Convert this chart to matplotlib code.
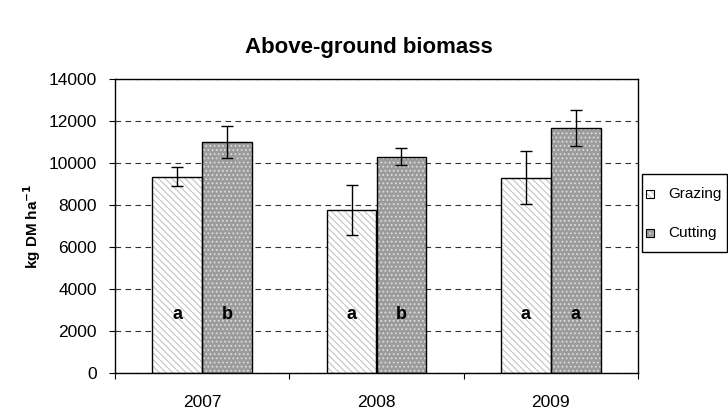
import numpy as np
import matplotlib
matplotlib.use("Agg")
import matplotlib.pyplot as plt
from matplotlib.patches import Rectangle

plt.rcParams['font.family'] = ['Liberation Sans', 'DejaVu Sans']
plt.rcParams['hatch.linewidth'] = 0.8

years = ["2007", "2008", "2009"]
series = ["Grazing", "Cutting"]
grazing = [9350, 7750, 9300]
grazing_err = [450, 1200, 1250]
cutting = [11000, 10300, 11650]
cutting_err = [750, 400, 850]
grazing_letters = ["a", "a", "a"]
cutting_letters = ["b", "b", "a"]
letter_y = 2800

W = 0.286
x = np.arange(len(years))
G_STYLE = dict(facecolor="white", hatch="\\\\\\\\\\", edgecolor="#c4c4c4")
C_STYLE = dict(facecolor="#9c9c9c", hatch="....", edgecolor="#dcdcdc")

fig = plt.figure(figsize=(7.28, 4.11), dpi=100)
ax = fig.add_axes([115/728, 1-373/411, (638-115)/728, (373-79)/411])

# hatched fills (no outline) then black outlines on top
ax.bar(x - W/2, grazing, W, linewidth=0, zorder=2, **G_STYLE)
ax.bar(x + W/2, cutting, W, linewidth=0, zorder=2, **C_STYLE)
ax.bar(x - W/2, grazing, W, fill=False, edgecolor="black", linewidth=1.0, zorder=3)
ax.bar(x + W/2, cutting, W, fill=False, edgecolor="black", linewidth=1.0, zorder=3)
ax.errorbar(x - W/2, grazing, yerr=grazing_err, fmt="none", ecolor="black", elinewidth=1, capsize=4, capthick=1, zorder=4)
ax.errorbar(x + W/2, cutting, yerr=cutting_err, fmt="none", ecolor="black", elinewidth=1, capsize=4, capthick=1, zorder=4)

for i in range(len(years)):
    ax.text(x[i] - W/2, letter_y, grazing_letters[i], ha="center", va="center", fontsize=13, fontweight="bold", zorder=5)
    ax.text(x[i] + W/2, letter_y, cutting_letters[i], ha="center", va="center", fontsize=13, fontweight="bold", zorder=5)

ax.set_ylim(0, 14000)
ax.set_yticks(np.arange(0, 14001, 2000))
ax.yaxis.grid(True, linestyle=(0, (5, 4)), color="#333333", linewidth=0.8, zorder=1)
ax.set_axisbelow(True)
ax.tick_params(axis="y", direction="out", length=4, labelsize=12.5, pad=9)

ax.set_xlim(-0.5, 2.5)
ax.set_xticks([-0.5, 0.5, 1.5, 2.5])
ax.set_xticklabels([])
ax.set_xticks(x, minor=True)
ax.set_xticklabels(years, minor=True)
ax.tick_params(axis="x", which="major", direction="out", length=4)
ax.tick_params(axis="x", which="minor", length=0, labelsize=12.5, pad=16)

for s in ax.spines.values():
    s.set_linewidth(1.0)
    s.set_color("black")

ax.set_ylabel("kg DM ha$^{\\mathbf{-1}}$", fontsize=11, fontweight="bold", labelpad=4)
fig.text(369/728, 1-47/411, "Above-ground biomass", ha="center", va="center", fontsize=16, fontweight="bold")

# legend box drawn by hand to match the spreadsheet layout
tf = fig.transFigure
fig.patches.append(Rectangle((642/728, 1-252/411), 85/728, 78/411, transform=tf,
                             fill=False, edgecolor="black", linewidth=1.0))
for lab, sty, yc in zip(series, [G_STYLE, C_STYLE], [194, 233]):
    fig.patches.append(Rectangle((646/728, 1-(yc+4)/411), 8/728, 8/411, transform=tf,
                                 linewidth=0, **sty))
    fig.patches.append(Rectangle((646/728, 1-(yc+4)/411), 8/728, 8/411, transform=tf,
                                 fill=False, edgecolor="black", linewidth=0.8))
    fig.text(668/728, 1-yc/411, lab, ha="left", va="center", fontsize=11)

fig.savefig("out.png", dpi=100)
